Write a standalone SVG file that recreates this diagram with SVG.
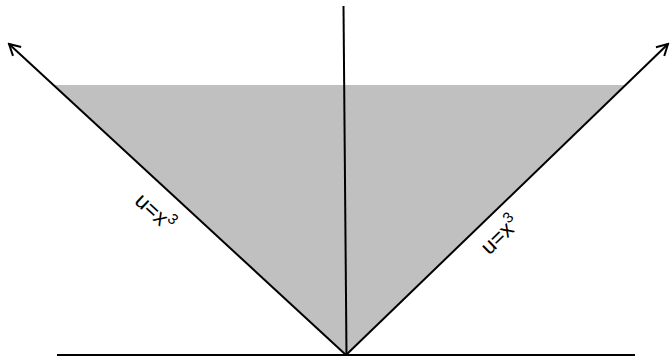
<svg xmlns="http://www.w3.org/2000/svg" width="670" height="360" viewBox="0 0 670 360">
<style>
.ln{stroke:#000;stroke-width:2;fill:none}
.lbl{font-family:"Liberation Sans",Arial,sans-serif;font-size:22px;fill:#000}
.sup{font-size:15px}
</style>
<defs>
<marker id="arr" markerWidth="14" markerHeight="14" refX="12" refY="7" orient="auto" markerUnits="userSpaceOnUse">
<path d="M1,1 L12,7 L1,13" fill="none" stroke="#000" stroke-width="2"/>
</marker>
</defs>
<g id="region">
<polygon points="54,85 626,85 346,355" fill="#c0c0c0"/>
</g>
<g id="connectors">
<line id="baseline" class="ln" x1="57" y1="355" x2="635" y2="355"/>
<line id="vaxis" class="ln" x1="343.5" y1="6" x2="346.5" y2="355"/>
<line id="left" class="ln" x1="346" y1="355" x2="9" y2="44" marker-end="url(#arr)"/>
<line id="right" class="ln" x1="346" y1="355" x2="668" y2="44" marker-end="url(#arr)"/>
</g>
<g id="label-left">
<text class="lbl" transform="translate(155,212) rotate(42.7)" text-anchor="middle" dominant-baseline="central">u=x<tspan class="sup" dy="-8">3</tspan></text>
</g>
<g id="label-right">
<text class="lbl" transform="translate(500,235) rotate(-44)" text-anchor="middle" dominant-baseline="central">u=x<tspan class="sup" dy="-8">3</tspan></text>
</g>
</svg>
